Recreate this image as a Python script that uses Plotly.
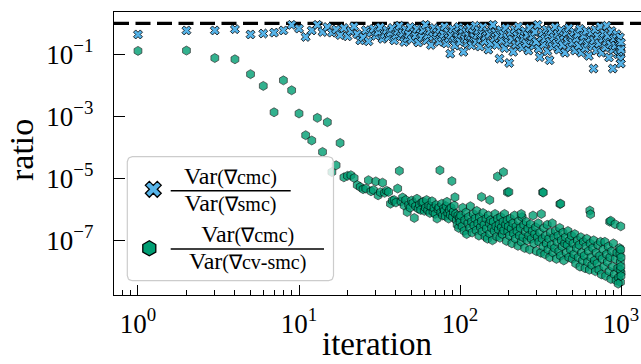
import numpy as np
import plotly.graph_objects as go

# ---------------- data ----------------
# Var(grad cmc) / Var(grad smc)  -- iteration and log10(ratio)
smc_iter = [1, 2, 3, 4, 5, 6, 7, 8, 9, 10, 11, 12, 13, 14,
            15, 16, 17, 18, 19, 20, 21, 22, 23, 24, 25, 26, 27, 28, 29, 30,
            31, 32, 33, 34, 35, 36, 37, 38, 39, 40, 41, 42, 43, 44, 45, 46,
            47, 48, 49, 50, 52, 53, 54, 55, 57, 58, 59, 61, 62, 63, 65, 66,
            68, 69, 71, 72, 74, 75, 77, 79, 80, 82, 84, 85, 87, 88, 90, 92,
            93, 95, 97, 98, 100,
            102, 104, 105, 107, 109, 111, 113, 115, 117, 118, 120, 122, 124,
            126, 128, 130, 133, 135, 137, 139, 142, 144, 147, 150, 152, 155,
            158, 160, 163, 166, 169, 172, 176, 179, 182, 185, 189, 192, 196,
            199, 202, 206, 210, 214, 218, 222, 226, 230, 234, 239, 243, 248,
            252, 257, 262, 266, 271, 276, 281, 287, 292, 297, 303, 308, 313,
            319, 325, 331, 337, 343, 349, 355, 360, 362, 368, 375, 382, 389,
            396, 403, 410, 418, 425, 433, 441, 449, 457, 465, 474, 482, 491,
            500, 509, 518, 527, 537, 546, 556, 566, 577, 587, 598, 609, 620,
            631, 643, 654, 666, 675, 678, 691, 703, 716, 729, 742, 756, 770,
            784, 798, 812, 815, 827, 842, 857, 873, 889, 890, 905, 922, 939,
            956, 973, 985, 990, 993, 995, 997, 999, 1000]
smc_log10 = [-0.36, -0.23, -0.23, -0.19, -0.36, -0.33, -0.30, -0.23, -0.05, -0.17, -0.44, -0.23, -0.05, -0.28,
             -0.12, -0.30, -0.20, -0.38, -0.15, -0.42, -0.25, -0.10, -0.35, -0.55, -0.45, -0.22, -0.58, -0.30, -0.18, -0.40,
             -0.28, -0.12, -0.50, -0.35, -0.22, -0.45, -0.30, -0.15, -0.55, -0.38, -0.25, -0.08, -0.42, -0.32, -0.60, -0.20,
             -0.48, -0.35, -0.12, -0.52, -0.28, -0.40, -0.18, -0.62, -0.33, -0.45, -0.22, -0.05, -0.55, -0.38, -0.25, -0.70,
             -0.42, -0.15, -0.50, -0.30, -0.60, -0.20, -0.45, -0.35, -0.10, -0.65, -0.28, -0.48, -0.98, -0.38, -0.18, -0.55,
             -0.72, -0.30, -0.45, -0.12, -0.60,
             -0.35, -0.20, -0.92, -0.50, -0.28, -0.65, -0.40, -0.15, -0.55, -0.71, -0.30, -0.45, -0.08,
             -0.60, -0.38, -0.22, -0.75, -0.50, -0.32, -0.12, -0.58, -0.42, -0.25, -0.85, -0.35, -0.65,
             -0.18, -0.05, -0.48, -0.30, -0.70, -0.40, -1.14, -0.22, -0.55, -0.35, -0.80, -0.15, -0.45,
             -0.62, -1.28, -0.30, -0.52, -0.92, -0.20, -0.68, -0.40, -0.10, -0.58, -0.32, -0.78, -0.48,
             -0.25, -0.65, -0.38, -0.88, -0.15, -0.55, -0.42, -0.72, -0.28, -0.60, -0.05, -0.82, -1.09,
             -0.45, -0.30, -0.68, -0.50, -0.20, -0.90, -0.38, -1.19, -0.60, -0.25, -0.75, -0.45, -0.12,
             -0.65, -0.35, -0.85, -0.52, -0.22, -0.70, -0.40, -0.95, -0.30, -0.58, -0.15, -0.78, -0.45,
             -0.62, -0.28, -0.88, -0.50, -0.35, -0.72, -0.18, -0.95, -0.55, -0.40, -0.80, -0.25, -0.65,
             -1.05, -0.48, -0.30, -0.75, -1.46, -0.55, -0.20, -0.88, -0.42, -0.65, -0.10, -0.95, -0.50,
             -0.32, -0.78, -0.58, -0.08, -0.40, -1.10, -0.68, -0.25, -1.46, -0.85, -0.50, -0.72, -0.35,
             -1.00, -0.60, -0.45, -0.78, -0.95, -1.15, -1.30, -0.62, -0.85]

# Var(grad cmc) / Var(grad cv-smc)  -- iteration and log10(ratio)
cv_iter = [1, 2, 3, 4, 5, 6, 7, 8, 9, 10, 11, 12, 13, 14, 15, 16, 17, 18,
           19, 20, 21, 22, 23, 24, 25, 26, 27, 28, 29, 30, 31, 32, 33, 34, 35, 36,
           37, 38, 39, 40, 41, 42, 43, 44, 45, 46, 47, 48, 49, 50, 51, 52, 53, 54,
           55, 56, 57, 58, 59, 60, 61, 62, 63, 64, 65, 66, 67, 68, 69, 70, 71, 72,
           73, 74, 75, 76, 77, 78, 79, 80, 81, 82, 83, 84, 85, 86, 87, 88, 89, 90,
           91, 92, 93, 94, 95, 96, 97, 98, 99, 100,
           101, 103, 104, 106, 107, 109, 110, 112, 113, 115, 116, 118, 119, 121,
           122, 124, 126, 127, 129, 131, 132, 134, 136, 137, 139,
           141, 143, 145, 146, 148, 150, 152, 153, 155, 157, 159, 161, 163, 165,
           167, 169, 171, 173, 175, 177, 179, 181, 183, 185, 187, 189, 192, 194,
           196, 198, 200,
           203, 205, 208, 210, 213, 215, 218, 221, 223, 226, 229, 231, 234, 237,
           240, 243, 246, 249, 252, 255, 258, 261, 264, 267, 271, 274, 277, 281,
           284, 288, 291, 295, 298, 302, 306, 309, 313, 317, 320,
           324, 328, 332, 336, 340, 344, 348, 352, 356, 361, 365, 369, 374, 378,
           383, 387, 392, 397, 401, 406, 411, 416, 421, 426, 431, 436, 441, 447,
           452, 457, 463, 468, 474, 480,
           486, 492, 498, 504, 510, 516, 523, 529, 536, 542, 549, 556, 563, 570,
           577, 584, 591, 598, 605, 613, 620, 628, 636, 643, 651, 659, 668, 676,
           684, 693, 701,
           710, 719, 728, 737, 746, 755, 764, 774, 783, 793, 803, 813, 823, 833,
           844, 854, 865, 875, 886, 897, 909, 920, 932, 943, 955, 967, 979, 991,
           1000, 985, 988, 992, 995, 997, 999, 960, 1000,
           136, 153, 171, 186, 197, 201, 240, 326, 329, 417, 422, 640, 647, 850,
           863, 918, 996]
cv_log10 = [-0.89, -0.88, -1.12, -1.16, -1.64, -2.02, -2.87, -1.84, -2.16, -2.91, -3.61, -3.78, -3.05, -4.15, -3.19, -4.80, -4.58, -3.86,
            -4.97, -4.92, -4.90, -4.99, -5.22, -5.28, -5.35, -5.33, -5.06, -5.42, -5.38, -5.10, -5.55, -5.45, -5.14, -5.47, -5.40, -5.44,
            -5.82, -5.72, -5.70, -5.78, -5.33, -4.76, -5.75, -5.62, -5.88, -5.70, -6.09, -5.85, -5.95, -5.72, -5.80, -6.28, -5.90, -5.66,
            -5.98, -5.85, -6.02, -5.78, -5.76, -6.05, -5.95, -5.70, -6.03, -5.88, -6.12, -5.92, -5.74, -6.08, -5.96, -6.15, -5.86, -6.30,
            -6.00, -5.94, -4.74, -6.10, -5.82, -6.20, -5.98, -6.05, -6.22, -5.90, -5.76, -6.12, -6.30, -6.02, -6.18, -5.95, -5.09, -6.25,
            -6.08, -5.88, -5.61, -6.15, -6.35, -6.50, -6.20, -6.60, -6.28, -6.41,
            -6.20, -6.55, -5.95, -6.70, -6.35, -6.10, -6.80, -6.45, -6.25, -6.60, -5.90, -6.40, -6.75, -6.15,
            -6.52, -6.30, -6.68, -6.05, -6.45, -6.85, -6.25, -6.58, -6.38, -6.72, -6.12,
            -6.50, -6.88, -6.30, -6.62, -6.95, -6.20, -6.45, -6.78, -6.35, -6.60, -7.00, -6.40, -6.70, -6.15,
            -6.55, -6.88, -6.30, -6.65, -6.48, -6.92, -6.25, -6.58, -6.80, -6.40, -6.68, -6.15, -6.50, -7.02,
            -6.35, -6.72, -6.55,
            -6.85, -6.30, -6.62, -7.10, -6.45, -6.78, -6.20, -6.95, -6.55, -6.70, -7.18, -6.38, -6.85, -6.60,
            -7.05, -6.25, -6.90, -6.50, -7.25, -6.72, -6.40, -7.00, -6.62, -6.85, -7.30, -6.48, -6.95, -6.70,
            -6.20, -7.10, -6.80, -6.58, -7.35, -6.90, -6.45, -7.05, -6.75, -7.40, -6.15,
            -6.95, -7.20, -6.60, -7.45, -6.85, -7.10, -6.50, -7.30, -6.95, -7.55, -6.75, -7.15, -6.45, -7.40,
            -6.90, -7.25, -6.70, -7.60, -7.05, -6.85, -7.35, -6.60, -7.50, -7.00, -7.20, -6.75, -7.65, -7.10,
            -6.90, -7.40, -7.15, -6.70, -7.55, -7.00,
            -7.30, -6.85, -7.60, -7.10, -7.45, -6.80, -7.75, -7.25, -7.00, -7.55, -7.15, -7.85, -6.90, -7.40,
            -7.65, -7.05, -7.50, -7.90, -7.20, -6.95, -7.70, -7.35, -7.95, -7.10, -7.55, -7.80, -7.25, -7.00,
            -7.65, -8.00, -7.40,
            -7.75, -7.15, -7.95, -7.50, -7.05, -8.10, -7.60, -7.30, -7.85, -7.05, -8.15, -7.45, -7.70, -7.20,
            -8.00, -7.55, -8.25, -7.35, -7.85, -7.10, -8.10, -7.60, -8.30, -7.40, -7.90, -8.20, -7.25, -7.70,
            -8.05, -7.45, -7.95, -8.35, -7.30, -7.85, -8.15, -8.40, -7.55,
            -5.60, -5.70, -4.94, -4.80, -5.45, -5.44, -6.15, -5.45, -5.46, -5.83, -5.82, -6.04, -6.16, -6.40,
            -6.37, -6.48, -6.55]

reference_ratio = 1.0

legend_numerators = ["(∇cmc)", "(∇cmc)"]
legend_denominators = ["(∇smc)", "(∇cv-smc)"]

x_tickvals = [1, 10, 100, 1000]
x_ticktext = ["10<sup>0</sup>", "10<sup>1</sup>", "10<sup>2</sup>", "10<sup>3</sup>"]
x_minor = [0.8, 0.9, 2, 3, 4, 5, 6, 7, 8, 9, 20, 30, 40, 50, 60, 70, 80, 90,
           200, 300, 400, 500, 600, 700, 800, 900]
y_tickvals = [1e-1, 1e-3, 1e-5, 1e-7]
y_ticktext = ["10<sup>−1</sup>", "10<sup>−3</sup>", "10<sup>−5</sup>", "10<sup>−7</sup>"]

# ---------------- layout geometry ----------------
W, H = 641, 364
ML, MT, MB, MR = 114, 12, 69, 0
PW, PH = W - ML - MR, H - MT - MB
XR = [-0.149, 3.124]
YR = [-8.765, 0.365]
FONT = "Liberation Serif, Times New Roman, serif"


def px2x(px):
    return (px - ML) / PW


def px2y(py):
    return (H - MB - py) / PH


def var_text(arg):
    return ('<span style="font-size:24px">Var</span>'
            '<span style="font-size:20px">' + arg + '</span>')


BLUE = "#56B4E9"
GREEN = "#009E73"

fig = go.Figure()

# dashed reference line at ratio = 1 (spans the axis)
fig.add_trace(go.Scatter(
    x=[10 ** XR[0], 10 ** (XR[1] + 0.5)], y=[reference_ratio, reference_ratio],
    mode="lines", line=dict(color="black", width=3.3, dash="15px,6.5px"),
    hoverinfo="skip", showlegend=False))

fig.add_trace(go.Scatter(
    x=cv_iter, y=[10 ** v for v in cv_log10], mode="markers",
    marker=dict(symbol="hexagon", size=9, color=GREEN, opacity=0.8,
                line=dict(color="black", width=0.7)),
    showlegend=False, hoverinfo="skip"))

fig.add_trace(go.Scatter(
    x=smc_iter, y=[10 ** v for v in smc_log10], mode="markers",
    marker=dict(symbol="x", size=8, color=BLUE,
                line=dict(color="black", width=0.8)),
    showlegend=False, hoverinfo="skip"))

# ---------------- custom legend (overlay axes in [0,1]) ----------------
bx0, bx1, by0, by1, rad = 127.3, 333.5, 156.7, 280.7, 5.0
pts = []
for cx, cy, a0 in [(bx1 - rad, by0 + rad, -90), (bx1 - rad, by1 - rad, 0),
                   (bx0 + rad, by1 - rad, 90), (bx0 + rad, by0 + rad, 180)]:
    for a in np.linspace(a0, a0 + 90, 8):
        pts.append((cx + rad * np.cos(np.radians(a)), cy + rad * np.sin(np.radians(a))))
pts.append(pts[0])
fig.add_trace(go.Scatter(
    x=[px2x(p[0]) for p in pts], y=[px2y(p[1]) for p in pts],
    xaxis="x2", yaxis="y2", mode="lines", fill="toself",
    fillcolor="rgba(255,255,255,0.8)", line=dict(color="#cccccc", width=1.2),
    hoverinfo="skip", showlegend=False))

fig.add_trace(go.Scatter(
    x=[px2x(153.3)], y=[px2y(189.3)], xaxis="x2", yaxis="y2", mode="markers",
    marker=dict(symbol="x", size=14, color=BLUE, line=dict(color="black", width=1.3)),
    hoverinfo="skip", showlegend=False))
fig.add_trace(go.Scatter(
    x=[px2x(149.3)], y=[px2y(248.3)], xaxis="x2", yaxis="y2", mode="markers",
    marker=dict(symbol="hexagon", size=15, color=GREEN, line=dict(color="black", width=1.3)),
    hoverinfo="skip", showlegend=False))

annotations = []
shapes = []
entries = [
    dict(cx=230.8, mid_y=189.4, bar=(170.7, 290.7, 190.7)),
    dict(cx=247.5, mid_y=247.4, bar=(170.7, 324.0, 249.0)),
]
for num, den, e in zip(legend_numerators, legend_denominators, entries):
    annotations.append(dict(x=px2x(e["cx"]), y=px2y(e["mid_y"]), xref="paper", yref="paper",
                            text=var_text(num) + "<br>" + var_text(den),
                            showarrow=False, xanchor="center", yanchor="middle", align="center",
                            font=dict(family=FONT, size=20.8, color="black")))
    x0, x1, yb = e["bar"]
    shapes.append(dict(type="line", xref="paper", yref="paper",
                       x0=px2x(x0), x1=px2x(x1), y0=px2y(yb), y1=px2y(yb),
                       line=dict(color="black", width=1.6), layer="above"))

# axis titles
annotations.append(dict(x=px2x(377), y=0, xref="paper", yref="paper", yshift=-MB,
                        text="iteration", showarrow=False, xanchor="center", yanchor="bottom",
                        font=dict(family=FONT, size=33, color="black")))
annotations.append(dict(x=px2x(21), y=px2y(150), xref="paper", yref="paper",
                        text="ratio", showarrow=False, xanchor="center", yanchor="middle",
                        textangle=-90, font=dict(family=FONT, size=34, color="black")))

fig.update_layout(
    width=W, height=H,
    margin=dict(l=ML, r=MR, t=MT, b=MB, autoexpand=False),
    paper_bgcolor="white", plot_bgcolor="white",
    font=dict(family=FONT, color="black"),
    showlegend=False,
    annotations=annotations, shapes=shapes,
    xaxis=dict(type="log", range=XR, tickmode="array", tickvals=x_tickvals, ticktext=x_ticktext,
               ticks="inside", ticklen=10, tickwidth=1.1, tickcolor="black",
               showline=True, linecolor="black", linewidth=1.3, mirror=True,
               showgrid=False, zeroline=False, tickfont=dict(size=27, family=FONT),
               ticklabelstandoff=4,
               minor=dict(tickmode="array", tickvals=x_minor, ticks="inside",
                          ticklen=5, tickwidth=0.9, tickcolor="black", showgrid=False)),
    yaxis=dict(type="log", range=YR, tickmode="array", tickvals=y_tickvals, ticktext=y_ticktext,
               ticks="inside", ticklen=11, tickwidth=1.1, tickcolor="black",
               showline=True, linecolor="black", linewidth=1.3, mirror=False,
               showgrid=False, zeroline=False, tickfont=dict(size=27, family=FONT),
               ticklabelstandoff=14),
    xaxis2=dict(overlaying="x", range=[0, 1], visible=False, fixedrange=True),
    yaxis2=dict(overlaying="y", range=[0, 1], visible=False, fixedrange=True),
)

fig.write_html("out.html")
